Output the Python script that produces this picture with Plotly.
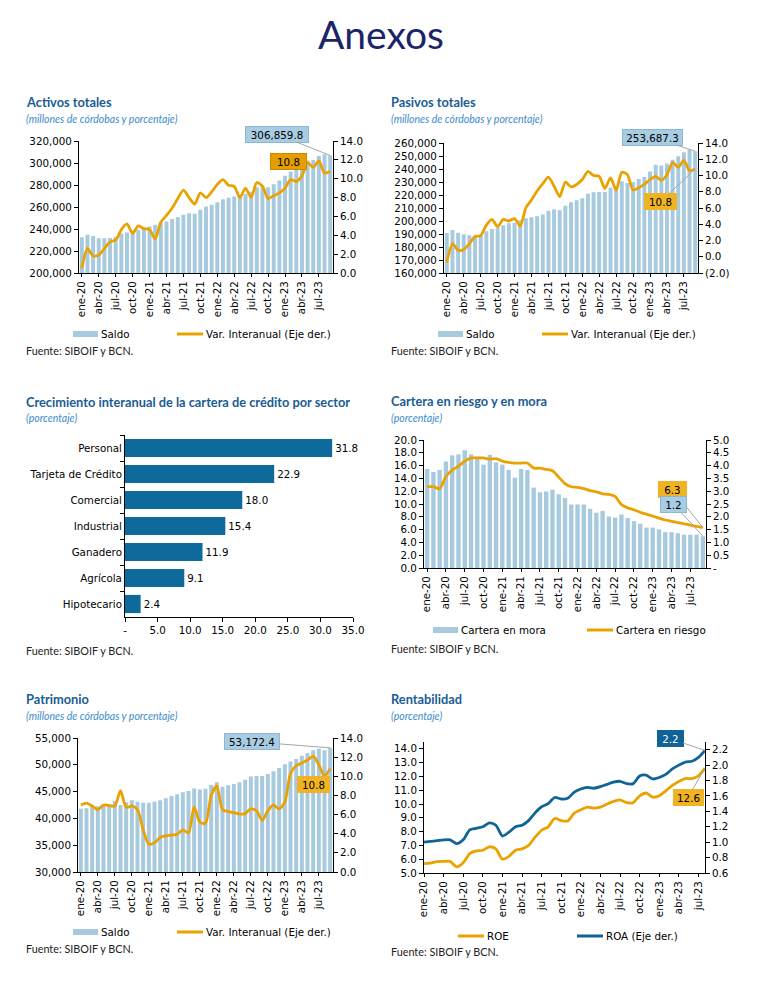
import plotly.graph_objects as go

W, H = 783, 1008

# ---------------- data ----------------
months = ["ene", "feb", "mar", "abr", "may", "jun", "jul", "ago", "sep", "oct", "nov", "dic"]
years = ["20", "21", "22", "23"]
periods = [f"{m}-{y}" for y in years for m in months]
periods45 = periods[:45]          # ene-20 .. sep-23
periods44 = periods[:44]          # ene-20 .. ago-23
tick_labels = periods45[::3]      # ene, abr, jul, oct

activos_saldo = [232600, 234800, 233600, 231700, 231700, 231800, 233000, 236000, 236900, 237800,
                 239300, 240000, 242300, 243800, 246000, 246900, 249000, 250800, 252900, 254400,
                 253800, 257400, 260500, 262000, 264400, 267100, 268300, 269500, 270700, 271900,
                 273800, 278000, 278000, 278000, 280700, 284000, 288300, 292200, 296100, 298200,
                 302200, 302800, 306400, 307900, 306859.8]
activos_var = [0.5, 2.6, 1.8, 1.9, 2.6, 3.3, 3.5, 4.6, 5.2, 4.2,
               5.0, 4.7, 4.6, 3.6, 5.4, 6.1, 6.9, 7.9, 8.8, 8.0,
               7.3, 8.5, 8.0, 8.6, 9.4, 9.9, 9.3, 9.2, 8.0, 9.0,
               8.0, 9.6, 9.2, 7.9, 8.2, 8.5, 9.0, 9.9, 9.7, 10.3,
               11.7, 11.2, 11.9, 10.6, 10.8]

pasivos_saldo = [190800, 193100, 191000, 189800, 189000, 188300, 189500, 192200, 193800, 194800,
                 196800, 198300, 198500, 200500, 202200, 202800, 203600, 205000, 207800, 208800,
                 208200, 211800, 214500, 216000, 217500, 221000, 222200, 222300, 222300, 225500,
                 226500, 230500, 229200, 229800, 232300, 233800, 238000, 243300, 242600, 244200,
                 247200, 249800, 252800, 254900, 253687.3]
pasivos_var = [-0.7, 1.6, 0.8, 0.9, 1.6, 2.5, 2.6, 3.9, 4.6, 3.7,
               4.6, 4.4, 4.7, 3.8, 6.0, 7.0, 8.1, 9.0, 9.8, 8.7,
               7.4, 9.2, 8.6, 8.9, 9.5, 10.5, 10.0, 9.9, 8.4, 9.7,
               8.2, 10.4, 10.1, 8.2, 8.5, 8.9, 9.5, 9.9, 9.4, 10.1,
               11.6, 11.0, 11.9, 10.6, 10.8]

sectores = ["Personal", "Tarjeta de Crédito", "Comercial", "Industrial", "Ganadero", "Agrícola", "Hipotecario"]
crecimiento_sector = [31.8, 22.9, 18.0, 15.4, 11.9, 9.1, 2.4]

cartera_mora = [3.87, 3.75, 3.83, 4.16, 4.40, 4.44, 4.60, 4.44, 4.35, 4.04,
                4.42, 4.13, 4.04, 3.83, 3.53, 3.87, 3.83, 3.14, 2.96, 2.99,
                3.06, 2.88, 2.74, 2.48, 2.48, 2.48, 2.31, 2.16, 2.23, 2.01,
                1.97, 2.09, 1.95, 1.83, 1.73, 1.58, 1.58, 1.51, 1.40, 1.40,
                1.36, 1.30, 1.30, 1.30, 1.24]
cartera_riesgo = [12.7, 12.7, 12.4, 14.3, 15.3, 15.9, 16.7, 17.2, 17.2, 17.2,
                  17.0, 17.1, 16.7, 16.5, 16.4, 16.4, 16.4, 15.6, 15.6, 15.4,
                  15.2, 14.2, 13.2, 12.7, 12.6, 12.4, 12.1, 11.9, 11.6, 11.5,
                  11.2, 9.9, 9.4, 9.1, 8.7, 8.4, 8.1, 7.8, 7.5, 7.3,
                  7.1, 6.9, 6.7, 6.5, 6.3]

patrimonio_saldo = [41800, 41900, 42200, 42250, 42400, 42400, 43250, 42500, 43000, 43400,
                    43100, 42900, 42900, 43100, 43400, 43750, 44200, 44500, 44900, 45100,
                    45600, 45400, 45550, 46250, 46750, 45900, 46200, 46400, 46750, 47200,
                    47800, 47900, 47900, 48300, 48800, 49400, 50100, 50600, 51100, 51700,
                    52200, 52700, 53000, 52700, 53172.4]
patrimonio_var = [7.0, 7.2, 6.9, 6.5, 7.0, 6.95, 6.9, 8.5, 6.75, 6.9,
                  6.5, 4.4, 2.9, 3.05, 3.6, 3.8, 3.85, 3.95, 4.4, 4.1,
                  6.8, 5.2, 5.1, 8.0, 9.0, 6.5, 6.3, 6.2, 6.05, 6.1,
                  6.6, 6.4, 5.4, 6.4, 7.0, 6.6, 7.3, 10.3, 11.1, 11.4,
                  11.7, 12.1, 11.2, 10.0, 10.8]

roe = [5.68, 5.72, 5.82, 5.84, 5.84, 5.45, 5.75, 6.4, 6.6, 6.65,
       6.9, 6.75, 6.0, 6.2, 6.65, 6.75, 7.0, 7.6, 8.1, 8.35,
       8.95, 8.8, 8.78, 9.34, 9.58, 9.78, 9.7, 9.78, 10.0, 10.19,
       10.3, 10.1, 10.1, 10.6, 10.8, 10.5, 10.6, 10.96, 11.35, 11.64,
       11.85, 11.85, 12.05, 12.6]
roa = [1.00, 1.01, 1.02, 1.03, 1.03, 0.98, 1.03, 1.16, 1.18, 1.20,
       1.25, 1.22, 1.08, 1.13, 1.20, 1.22, 1.28, 1.38, 1.46, 1.50,
       1.58, 1.56, 1.57, 1.65, 1.69, 1.71, 1.70, 1.72, 1.75, 1.78,
       1.79, 1.76, 1.76, 1.86, 1.87, 1.82, 1.84, 1.88, 1.95, 2.00,
       2.04, 2.05, 2.10, 2.19]

# ---------------- style ----------------
FONT = "DejaVu Sans"
TFONT = "Lato"
FS = 10.3
BAR_LIGHT = "#A8CADF"
ORANGE = "#E9A200"
BAR_DARK = "#0F6A9C"
ROA_BLUE = "#0F6396"
TITLE_C = "#1A5C94"
SUB_C = "#3D8BC9"
BOX_BLUE = "#A8CCE2"
BOX_YEL = "#F0B323"
LEADER = "#A6A6A6"


def px(x):
    return x / W


def py(y):
    return 1 - y / H


def base_axis(**kw):
    d = dict(showline=True, linecolor="#000", linewidth=1, ticks="outside", ticklen=4,
             tickcolor="#000", showgrid=False, zeroline=False, fixedrange=True, automargin=False,
             tickfont=dict(family=FONT, size=FS, color="#000"))
    d.update(kw)
    return d


def xcat(x0, x1, anchor, n, line_chart=False):
    rng = [0, n - 1] if line_chart else [-0.5, n - 0.5]
    return base_axis(domain=[px(x0), px(x1)], anchor=anchor, type="category", range=rng,
                     tickmode="array", tickvals=tick_labels, ticktext=tick_labels,
                     tickangle=-90, ticklen=3)


def fmt_num(v, dec=1):
    s = f"{abs(v):,.{dec}f}"
    return f"({s})" if v < 0 else s


fig = go.Figure()

# Panel 1: Activos totales
fig.add_trace(go.Bar(x=periods45, y=activos_saldo, marker_color=BAR_LIGHT, xaxis="x", yaxis="y",
                     name="Saldo", showlegend=False))
fig.add_trace(go.Scatter(x=periods45, y=activos_var, mode="lines", xaxis="x", yaxis="y2",
                         line=dict(color=ORANGE, width=2.8, shape="spline", smoothing=0.7),
                         name="Var. Interanual (Eje der.)", showlegend=False))
# Panel 2: Pasivos totales
fig.add_trace(go.Bar(x=periods45, y=pasivos_saldo, marker_color=BAR_LIGHT, xaxis="x2", yaxis="y3",
                     name="Saldo", showlegend=False))
fig.add_trace(go.Scatter(x=periods45, y=pasivos_var, mode="lines", xaxis="x2", yaxis="y4",
                         line=dict(color=ORANGE, width=2.8, shape="spline", smoothing=0.7),
                         name="Var. Interanual (Eje der.)", showlegend=False))
# Panel 3: sector bars
fig.add_trace(go.Bar(x=crecimiento_sector, y=sectores, orientation="h", marker_color=BAR_DARK,
                     xaxis="x3", yaxis="y5", text=[f"{v:.1f}" for v in crecimiento_sector],
                     textposition="outside", cliponaxis=False,
                     textfont=dict(family=FONT, size=FS, color="#000"), showlegend=False))
# Panel 4: Cartera
fig.add_trace(go.Bar(x=periods45, y=cartera_mora, marker_color=BAR_LIGHT, xaxis="x4", yaxis="y6",
                     name="Cartera en mora", showlegend=False))
fig.add_trace(go.Scatter(x=periods45, y=cartera_riesgo, mode="lines", xaxis="x4", yaxis="y7",
                         line=dict(color=ORANGE, width=2.8, shape="spline", smoothing=0.7),
                         name="Cartera en riesgo", showlegend=False))
# Panel 5: Patrimonio
fig.add_trace(go.Bar(x=periods45, y=patrimonio_saldo, marker_color=BAR_LIGHT, xaxis="x5", yaxis="y8",
                     name="Saldo", showlegend=False))
fig.add_trace(go.Scatter(x=periods45, y=patrimonio_var, mode="lines", xaxis="x5", yaxis="y9",
                         line=dict(color=ORANGE, width=2.8, shape="spline", smoothing=0.7),
                         name="Var. Interanual (Eje der.)", showlegend=False))
# Panel 6: Rentabilidad
fig.add_trace(go.Scatter(x=periods44, y=roe, mode="lines", xaxis="x6", yaxis="y10",
                         line=dict(color=ORANGE, width=2.8, shape="spline", smoothing=0.7),
                         name="ROE", showlegend=False))
fig.add_trace(go.Scatter(x=periods44, y=roa, mode="lines", xaxis="x6", yaxis="y11",
                         line=dict(color=ROA_BLUE, width=2.8, shape="spline", smoothing=0.7),
                         name="ROA (Eje der.)", showlegend=False))

pct14 = [0, 2, 4, 6, 8, 10, 12, 14]
pas_r = [-2, 0, 2, 4, 6, 8, 10, 12, 14]
mora_t = [0, 0.5, 1, 1.5, 2, 2.5, 3, 3.5, 4, 4.5, 5]
sect_t = [0, 5, 10, 15, 20, 25, 30, 35]
roe_t = [5, 6, 7, 8, 9, 10, 11, 12, 13, 14]
roa_t = [0.6, 0.8, 1.0, 1.2, 1.4, 1.6, 1.8, 2.0, 2.2]

layout = dict(
    template="none",
    width=W, height=H, autosize=False, margin=dict(l=0, r=0, t=0, b=0, pad=0),
    paper_bgcolor="white", plot_bgcolor="rgba(0,0,0,0)", bargap=0.3, showlegend=False,
    font=dict(family=FONT, size=FS, color="#000"),
    # panel 1
    xaxis=xcat(79, 333, "y", 45),
    yaxis=base_axis(domain=[py(273), py(141)], anchor="x", range=[200000, 320000], dtick=20000,
                    tickformat=",.0f"),
    yaxis2=base_axis(overlaying="y", anchor="x", side="right", range=[0, 14], tickmode="array",
                     tickvals=pct14, ticktext=[fmt_num(v) for v in pct14]),
    # panel 2
    xaxis2=xcat(444, 698, "y3", 45),
    yaxis3=base_axis(domain=[py(273), py(143)], anchor="x2", range=[160000, 260000], dtick=10000,
                     tickformat=",.0f"),
    yaxis4=base_axis(overlaying="y3", anchor="x2", side="right", range=[-2, 14], tickmode="array",
                     tickvals=pas_r, ticktext=[fmt_num(v) for v in pas_r]),
    # panel 3
    xaxis3=base_axis(domain=[px(125), px(353)], anchor="y5", range=[0, 35], tickmode="array",
                     tickvals=sect_t, ticktext=["-" if v == 0 else f"{v:.1f}" for v in sect_t]),
    yaxis5=base_axis(domain=[py(617), py(435)], anchor="x3", type="category",
                     range=[6.5, -0.5], tickson="boundaries", ticklen=4),
    # panel 4
    xaxis4=xcat(424, 706, "y6", 45),
    yaxis6=base_axis(domain=[py(568), py(440)], anchor="x4", side="right", range=[0, 5],
                     tickmode="array", tickvals=mora_t,
                     ticktext=["-" if v == 0 else f"{v:.1f}" for v in mora_t]),
    yaxis7=base_axis(overlaying="y6", anchor="x4", side="left", range=[0, 20], dtick=2,
                     tickformat=".1f"),
    # panel 5
    xaxis5=xcat(78, 333, "y8", 45),
    yaxis8=base_axis(domain=[py(872), py(738)], anchor="x5", range=[30000, 55000], dtick=5000,
                     tickformat=",.0f"),
    yaxis9=base_axis(overlaying="y8", anchor="x5", side="right", range=[0, 14], tickmode="array",
                     tickvals=pct14, ticktext=[fmt_num(v) for v in pct14]),
    # panel 6
    xaxis6=xcat(424, 705, "y10", 44, line_chart=True),
    yaxis10=base_axis(domain=[py(873), py(742)], anchor="x6", range=[5, 14.5], tickmode="array",
                      tickvals=roe_t, ticktext=[f"{v:.1f}" for v in roe_t]),
    yaxis11=base_axis(overlaying="y10", anchor="x6", side="right", range=[0.6, 2.3],
                      tickmode="array", tickvals=roa_t, ticktext=[f"{v:.1f}" for v in roa_t]),
)
fig.update_layout(**layout)

ann = []
shapes = []


def text(x, y, s, size=FS, color="#000", family=FONT, xanchor="left", bold=False, italic=False):
    ann.append(dict(xref="paper", yref="paper", x=px(x), y=py(y), text=s, showarrow=False,
                    xanchor=xanchor, yanchor="middle", borderpad=0,
                    font=dict(family=family, size=size, color=color,
                              weight="bold" if bold else "normal",
                              style="italic" if italic else "normal")))


# main title
text(381, 34, "Anexos", size=39, color="#1B2469", family=TFONT, xanchor="center")

# panel titles / subtitles / sources
titles = [
    (25, 102, "Activos totales", 119, "(millones de córdobas y porcentaje)", 350),
    (390, 102, "Pasivos totales", 119, "(millones de córdobas y porcentaje)", 350),
    (25, 402, "Crecimiento interanual de la cartera de crédito por sector", 418, "(porcentaje)", 650),
    (390, 401, "Cartera en riesgo y en mora", 418, "(porcentaje)", 648),
    (25, 699, "Patrimonio", 716, "(millones de córdobas y porcentaje)", 948),
    (390, 699, "Rentabilidad", 716, "(porcentaje)", 951),
]
for x, ty, t, sy, sub, fy in titles:
    text(x, ty, t, size=12.8, color=TITLE_C, family=TFONT, bold=True)
    text(x, sy, sub, size=10.5, color=SUB_C, family=TFONT, italic=True)
    text(x, fy, "Fuente: SIBOIF y BCN.", size=10.8, color="#222", family=TFONT)


# legends (drawn)
def leg_bar(x, y, label):
    shapes.append(dict(type="rect", xref="paper", yref="paper", x0=px(x), x1=px(x + 25),
                       y0=py(y + 3), y1=py(y - 3), fillcolor=BAR_LIGHT, line=dict(width=0)))
    text(x + 27, y, label)


def leg_line(x, y, label, color):
    shapes.append(dict(type="line", xref="paper", yref="paper", x0=px(x), x1=px(x + 26),
                       y0=py(y), y1=py(y), line=dict(color=color, width=3)))
    text(x + 28, y, label)


leg_bar(73, 334, "Saldo")
leg_line(177, 334, "Var. Interanual (Eje der.)", ORANGE)
leg_bar(438, 334, "Saldo")
leg_line(542, 334, "Var. Interanual (Eje der.)", ORANGE)
leg_bar(433, 630, "Cartera en mora")
leg_line(587, 630, "Cartera en riesgo", ORANGE)
leg_bar(73, 932, "Saldo")
leg_line(177, 932, "Var. Interanual (Eje der.)", ORANGE)
leg_line(458, 936, "ROE", ORANGE)
leg_line(577, 936, "ROA (Eje der.)", ROA_BLUE)


# value label boxes
def vlabel(xa, ya, xval, yval, s, bg, ax, ay, w, fc="#000", line=True, border=None):
    ann.append(dict(xref=xa, yref=ya, x=xval, y=yval, text=s, showarrow=True, arrowhead=0,
                    arrowwidth=1, arrowcolor=LEADER if line else "rgba(0,0,0,0)",
                    ax=ax, ay=ay, standoff=0, bgcolor=bg, bordercolor=border or bg,
                    borderwidth=1, width=w, height=13,
                    font=dict(family=FONT, size=FS, color=fc)))


vlabel("x", "y", periods45[-1], activos_saldo[-1], fmt_num(activos_saldo[-1]), BOX_BLUE,
       -53, -21, 60, border="#8DB6D2")
vlabel("x", "y2", periods45[-1], activos_var[-1], fmt_num(activos_var[-1]), "#E49E00",
       -42, -10, 33, line=False, border="#C98A00")
vlabel("x2", "y3", periods45[-1], pasivos_saldo[-1], fmt_num(pasivos_saldo[-1]), BOX_BLUE,
       -43, -14, 57, border="#8DB6D2")
vlabel("x2", "y4", periods45[-1], pasivos_var[-1], fmt_num(pasivos_var[-1]), BOX_YEL,
       -35, 33, 29)
vlabel("x4", "y7", periods45[-1], cartera_riesgo[-1], fmt_num(cartera_riesgo[-1]), BOX_YEL,
       -30, -38, 25)
vlabel("x4", "y6", periods45[-1], cartera_mora[-1], fmt_num(cartera_mora[-1]), BOX_BLUE,
       -29, -32, 23, border="#8DB6D2")
vlabel("x5", "y8", periods45[-1], patrimonio_saldo[-1], fmt_num(patrimonio_saldo[-1]), BOX_BLUE,
       -78, -6, 52, border="#8DB6D2")
vlabel("x5", "y9", periods45[-1], patrimonio_var[-1], fmt_num(patrimonio_var[-1]), BOX_YEL,
       -17, 16, 29)
vlabel("x6", "y11", periods44[-1], roa[-1], fmt_num(roa[-1]), ROA_BLUE,
       -35, -12, 23, fc="white")
vlabel("x6", "y10", periods44[-1], roe[-1], fmt_num(roe[-1]), BOX_YEL,
       -17, 29, 27)

fig.update_layout(annotations=ann, shapes=shapes)

fig.write_html("out.html", config={"displayModeBar": False, "staticPlot": True},
               post_script="document.body.style.margin='0';document.body.style.overflow='hidden';")
